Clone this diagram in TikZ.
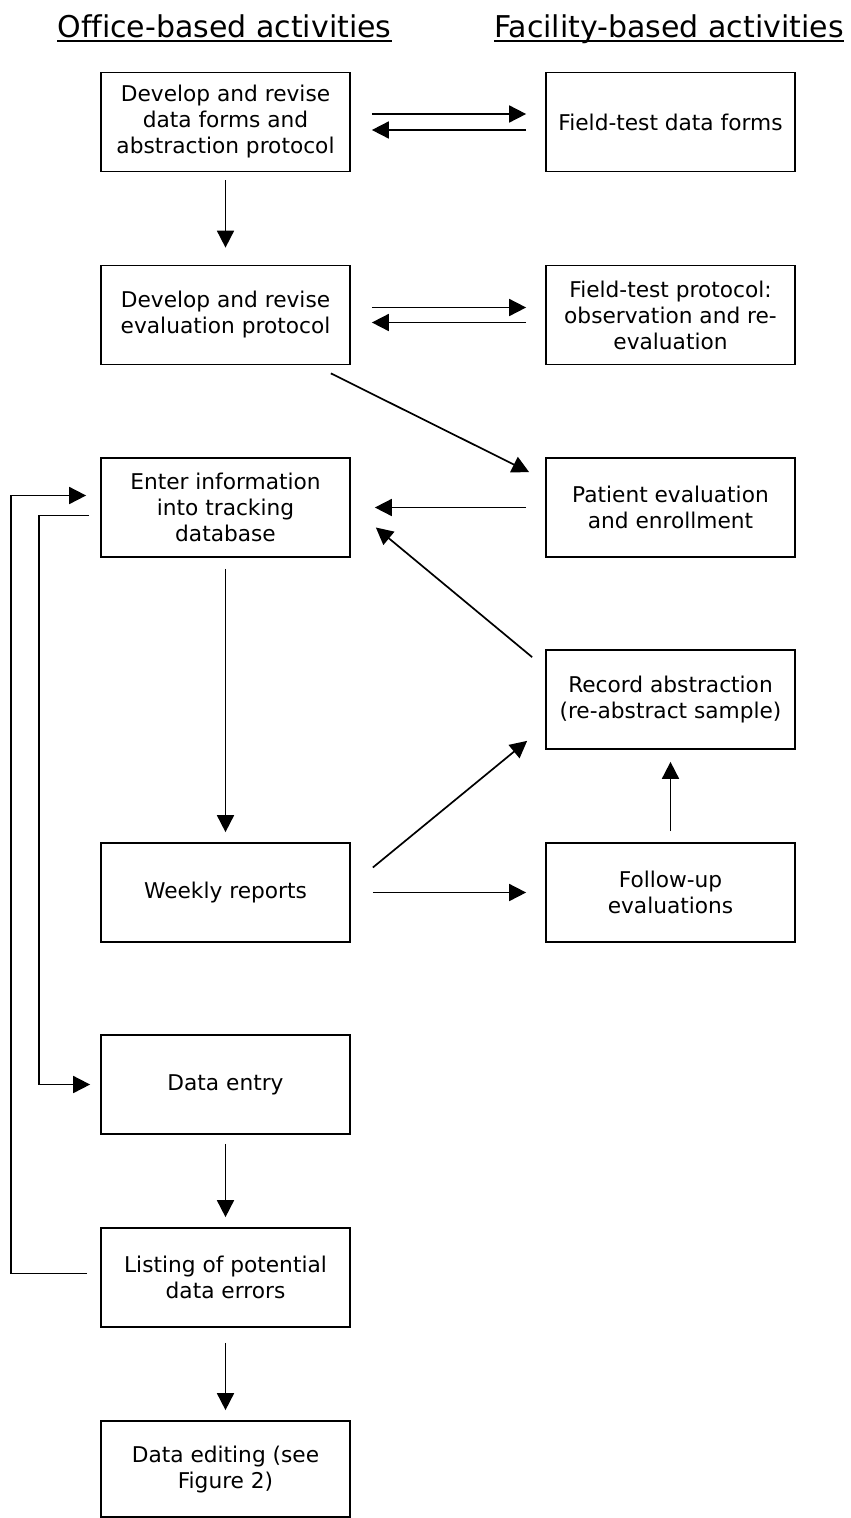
\documentclass[tikz,border=0pt]{standalone}
\usepackage{fontspec}
\setmainfont{DejaVu Sans}[Ligatures=NoCommon]
\usepackage{tikz}
\usetikzlibrary{arrows.meta,positioning,calc}

\begin{document}
\begin{tikzpicture}[x=1pt,y=-1pt,
  box/.style={rectangle,draw=black,line width=1.7pt,
              minimum width=249pt,minimum height=99pt,inner sep=2pt,
              align=center,font=\fontsize{21.7}{26}\selectfont},
  flow/.style={-{Triangle[length=17pt,width=17pt]},line width=1.7pt},
  head/.style={anchor=base,inner sep=0pt,font=\fontsize{30}{36}\selectfont},
]
\useasboundingbox (0,0) rectangle (851,1518);
% Column headings, underlined
\node[head] (hoffice) at (224.5,37) {Office-based activities};
\node[head] (hfacility) at (669,37) {Facility-based activities};
\foreach \h in {hoffice,hfacility}{
  \draw[line width=2.2pt] ([yshift=-4pt]\h.base west) -- ([yshift=-4pt]\h.base east);
}
% Office column (left)
\node[box] (devforms) at (225.5,122) {Develop and revise\\data forms and\\abstraction protocol};
\node[box] (devprot) at (225.5,315) {Develop and revise\\evaluation protocol};
\node[box] (enter) at (225.5,507.5) {Enter information\\into tracking\\database};
\node[box] (weekly) at (225.5,892.5) {Weekly reports};
\node[box] (entry) at (225.5,1084.5) {Data entry};
\node[box] (listing) at (225.5,1277.5) {Listing of potential\\data errors};
\node[box,minimum height=96pt] (editing) at (225.5,1469) {Data editing (see\\Figure 2)};
% Facility column (right)
\node[box] (ftforms) at (670.5,122) {Field-test data forms};
\node[box] (ftprot) at (670.5,315) {Field-test protocol:\\observation and re-\\evaluation};
\node[box] (patient) at (670.5,507.5) {Patient evaluation\\and enrollment};
\node[box] (record) at (670.5,699.5) {Record abstraction\\(re-abstract sample)};
\node[box] (follow) at (670.5,892.5) {Follow-up\\evaluations};
% Two-way links between the columns
\foreach \a/\b/\d in {devforms/ftforms/8,devprot/ftprot/7.5}{
  \draw[flow,shorten <=21pt,shorten >=19pt] ([yshift=\d pt]\a.east) -- ([yshift=\d pt]\b.west);
  \draw[flow,shorten <=19pt,shorten >=21pt] ([yshift=-\d pt]\b.west) -- ([yshift=-\d pt]\a.east);
}
% Straight links
\draw[flow,shorten <=8pt,shorten >=17pt] (devforms) -- (devprot);
\draw[flow,shorten <=11pt,shorten >=10pt] (enter) -- (weekly);
\draw[flow,shorten <=9pt,shorten >=10pt] (entry) -- (listing);
\draw[flow,shorten <=15pt,shorten >=10pt] (listing) -- (editing);
\draw[flow,shorten <=19pt,shorten >=24pt] (patient) -- (enter);
\draw[flow,shorten <=22pt,shorten >=19pt] (weekly) -- (follow);
\draw[flow,shorten <=11pt,shorten >=12pt] (follow) -- (record);
% Diagonal links
\draw[flow] ($(devprot.south east)+(-20,8)$) -- ($(patient.north west)+(-16,15)$);
\draw[flow] ($(record.north west)+(-13,8)$) -- ($(enter.east)+(25,20)$);
\draw[flow] ($(weekly.east)+(22,-25)$) -- ($(record.south west)+(-18,-9)$);
% Feedback loops down the left margin
\draw[flow] ($(listing.west)+(-13,-4)$) -| ($(enter.west)+(-89,-12)$) -- ($(enter.west)+(-14,-12)$);
\draw[flow] ($(enter.west)+(-11,8)$) -| ($(entry.west)+(-61,0)$) -- ($(entry.west)+(-10,0)$);
\end{tikzpicture}
\end{document}
